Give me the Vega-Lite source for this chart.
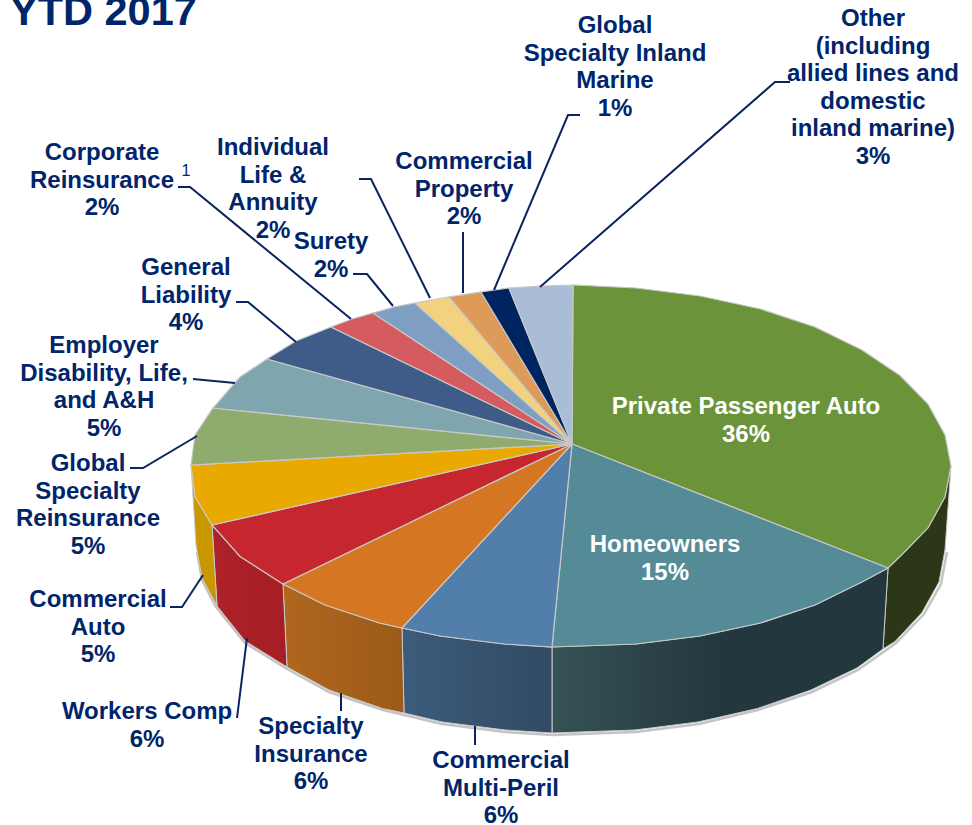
{
"$schema":"https://vega.github.io/schema/vega-lite/v6.json",
"width":972,"height":825,"padding":0,"autosize":{"type":"none"},
"background":"#ffffff","view":{"stroke":null},
"datasets":{
"top":[
{"slice":"Private Passenger Auto","i":0,"x":572,"y":444},{"slice":"Private Passenger Auto","i":1,"x":573,"y":285},{"slice":"Private Passenger Auto","i":2,"x":636,"y":288},{"slice":"Private Passenger Auto","i":3,"x":700,"y":296},{"slice":"Private Passenger Auto","i":4,"x":760.5,"y":309},{"slice":"Private Passenger Auto","i":5,"x":815,"y":327},{"slice":"Private Passenger Auto","i":6,"x":862,"y":350},{"slice":"Private Passenger Auto","i":7,"x":900,"y":375.5},{"slice":"Private Passenger Auto","i":8,"x":928,"y":404},{"slice":"Private Passenger Auto","i":9,"x":945,"y":435},{"slice":"Private Passenger Auto","i":10,"x":951,"y":466},{"slice":"Private Passenger Auto","i":11,"x":945,"y":497},{"slice":"Private Passenger Auto","i":12,"x":928,"y":528},{"slice":"Private Passenger Auto","i":13,"x":900,"y":556.5},{"slice":"Private Passenger Auto","i":14,"x":888,"y":568},{"slice":"Private Passenger Auto","i":15,"x":572,"y":444},
{"slice":"Homeowners","i":0,"x":572,"y":444},{"slice":"Homeowners","i":1,"x":888,"y":568},{"slice":"Homeowners","i":2,"x":862,"y":582},{"slice":"Homeowners","i":3,"x":815,"y":605},{"slice":"Homeowners","i":4,"x":760.5,"y":623},{"slice":"Homeowners","i":5,"x":700,"y":636},{"slice":"Homeowners","i":6,"x":636,"y":644},{"slice":"Homeowners","i":7,"x":552,"y":647},{"slice":"Homeowners","i":8,"x":572,"y":444},
{"slice":"Commercial Multi-Peril","i":0,"x":572,"y":444},{"slice":"Commercial Multi-Peril","i":1,"x":552,"y":647},{"slice":"Commercial Multi-Peril","i":2,"x":504,"y":644},{"slice":"Commercial Multi-Peril","i":3,"x":440,"y":636},{"slice":"Commercial Multi-Peril","i":4,"x":402,"y":628},{"slice":"Commercial Multi-Peril","i":5,"x":572,"y":444},
{"slice":"Specialty Insurance","i":0,"x":572,"y":444},{"slice":"Specialty Insurance","i":1,"x":402,"y":628},{"slice":"Specialty Insurance","i":2,"x":379.5,"y":623},{"slice":"Specialty Insurance","i":3,"x":325,"y":605},{"slice":"Specialty Insurance","i":4,"x":283,"y":584},{"slice":"Specialty Insurance","i":5,"x":572,"y":444},
{"slice":"Workers Comp","i":0,"x":572,"y":444},{"slice":"Workers Comp","i":1,"x":283,"y":584},{"slice":"Workers Comp","i":2,"x":240,"y":556.5},{"slice":"Workers Comp","i":3,"x":212,"y":525},{"slice":"Workers Comp","i":4,"x":572,"y":444},
{"slice":"Commercial Auto","i":0,"x":572,"y":444},{"slice":"Commercial Auto","i":1,"x":212,"y":525},{"slice":"Commercial Auto","i":2,"x":195,"y":497},{"slice":"Commercial Auto","i":3,"x":191,"y":465},{"slice":"Commercial Auto","i":4,"x":572,"y":444},
{"slice":"Global Specialty Reinsurance","i":0,"x":572,"y":444},{"slice":"Global Specialty Reinsurance","i":1,"x":191,"y":465},{"slice":"Global Specialty Reinsurance","i":2,"x":195,"y":435},{"slice":"Global Specialty Reinsurance","i":3,"x":213,"y":408},{"slice":"Global Specialty Reinsurance","i":4,"x":572,"y":444},
{"slice":"Employer Disability, Life, and A&H","i":0,"x":572,"y":444},{"slice":"Employer Disability, Life, and A&H","i":1,"x":213,"y":408},{"slice":"Employer Disability, Life, and A&H","i":2,"x":240,"y":377},{"slice":"Employer Disability, Life, and A&H","i":3,"x":267,"y":359},{"slice":"Employer Disability, Life, and A&H","i":4,"x":572,"y":444},
{"slice":"General Liability","i":0,"x":572,"y":444},{"slice":"General Liability","i":1,"x":267,"y":359},{"slice":"General Liability","i":2,"x":296,"y":341},{"slice":"General Liability","i":3,"x":331,"y":327},{"slice":"General Liability","i":4,"x":572,"y":444},
{"slice":"Corporate Reinsurance","i":0,"x":572,"y":444},{"slice":"Corporate Reinsurance","i":1,"x":331,"y":327},{"slice":"Corporate Reinsurance","i":2,"x":352,"y":319},{"slice":"Corporate Reinsurance","i":3,"x":373,"y":313},{"slice":"Corporate Reinsurance","i":4,"x":572,"y":444},
{"slice":"Surety","i":0,"x":572,"y":444},{"slice":"Surety","i":1,"x":373,"y":313},{"slice":"Surety","i":2,"x":394,"y":307},{"slice":"Surety","i":3,"x":415,"y":303},{"slice":"Surety","i":4,"x":572,"y":444},
{"slice":"Individual Life & Annuity","i":0,"x":572,"y":444},{"slice":"Individual Life & Annuity","i":1,"x":415,"y":303},{"slice":"Individual Life & Annuity","i":2,"x":449,"y":297},{"slice":"Individual Life & Annuity","i":3,"x":572,"y":444},
{"slice":"Commercial Property","i":0,"x":572,"y":444},{"slice":"Commercial Property","i":1,"x":449,"y":297},{"slice":"Commercial Property","i":2,"x":481,"y":292},{"slice":"Commercial Property","i":3,"x":572,"y":444},
{"slice":"Global Specialty Inland Marine","i":0,"x":572,"y":444},{"slice":"Global Specialty Inland Marine","i":1,"x":481,"y":292},{"slice":"Global Specialty Inland Marine","i":2,"x":509,"y":288},{"slice":"Global Specialty Inland Marine","i":3,"x":572,"y":444},
{"slice":"Other","i":0,"x":572,"y":444},{"slice":"Other","i":1,"x":509,"y":288},{"slice":"Other","i":2,"x":540,"y":286},{"slice":"Other","i":3,"x":573,"y":285},{"slice":"Other","i":4,"x":572,"y":444}
],
"side":[
{"slice":"Private Passenger Auto","i":0,"x":951,"y":466},{"slice":"Private Passenger Auto","i":1,"x":945,"y":497},{"slice":"Private Passenger Auto","i":2,"x":928,"y":528},{"slice":"Private Passenger Auto","i":3,"x":900,"y":556.5},{"slice":"Private Passenger Auto","i":4,"x":888,"y":568},{"slice":"Private Passenger Auto","i":5,"x":883,"y":649},{"slice":"Private Passenger Auto","i":6,"x":895,"y":641.5},{"slice":"Private Passenger Auto","i":7,"x":922,"y":612.6},{"slice":"Private Passenger Auto","i":8,"x":939,"y":582},{"slice":"Private Passenger Auto","i":9,"x":945,"y":550},{"slice":"Private Passenger Auto","i":10,"x":951,"y":466},
{"slice":"Homeowners","i":0,"x":888,"y":568},{"slice":"Homeowners","i":1,"x":862,"y":582},{"slice":"Homeowners","i":2,"x":815,"y":605},{"slice":"Homeowners","i":3,"x":760.5,"y":623},{"slice":"Homeowners","i":4,"x":700,"y":636},{"slice":"Homeowners","i":5,"x":636,"y":644},{"slice":"Homeowners","i":6,"x":552,"y":647},{"slice":"Homeowners","i":7,"x":552,"y":733},{"slice":"Homeowners","i":8,"x":635,"y":730},{"slice":"Homeowners","i":9,"x":698,"y":722},{"slice":"Homeowners","i":10,"x":757.5,"y":708.5},{"slice":"Homeowners","i":11,"x":811,"y":690},{"slice":"Homeowners","i":12,"x":857,"y":668},{"slice":"Homeowners","i":13,"x":883,"y":649},{"slice":"Homeowners","i":14,"x":888,"y":568},
{"slice":"Commercial Multi-Peril","i":0,"x":402,"y":628},{"slice":"Commercial Multi-Peril","i":1,"x":440,"y":636},{"slice":"Commercial Multi-Peril","i":2,"x":504,"y":644},{"slice":"Commercial Multi-Peril","i":3,"x":552,"y":647},{"slice":"Commercial Multi-Peril","i":4,"x":552,"y":733},{"slice":"Commercial Multi-Peril","i":5,"x":505,"y":730},{"slice":"Commercial Multi-Peril","i":6,"x":442,"y":722},{"slice":"Commercial Multi-Peril","i":7,"x":404,"y":713},{"slice":"Commercial Multi-Peril","i":8,"x":402,"y":628},
{"slice":"Specialty Insurance","i":0,"x":283,"y":584},{"slice":"Specialty Insurance","i":1,"x":325,"y":605},{"slice":"Specialty Insurance","i":2,"x":379.5,"y":623},{"slice":"Specialty Insurance","i":3,"x":402,"y":628},{"slice":"Specialty Insurance","i":4,"x":404,"y":713},{"slice":"Specialty Insurance","i":5,"x":382.5,"y":708.5},{"slice":"Specialty Insurance","i":6,"x":329,"y":690},{"slice":"Specialty Insurance","i":7,"x":287,"y":667},{"slice":"Specialty Insurance","i":8,"x":283,"y":584},
{"slice":"Workers Comp","i":0,"x":212,"y":525},{"slice":"Workers Comp","i":1,"x":240,"y":556.5},{"slice":"Workers Comp","i":2,"x":283,"y":584},{"slice":"Workers Comp","i":3,"x":287,"y":667},{"slice":"Workers Comp","i":4,"x":245,"y":641},{"slice":"Workers Comp","i":5,"x":217,"y":606},{"slice":"Workers Comp","i":6,"x":212,"y":525},
{"slice":"Commercial Auto","i":0,"x":191,"y":465},{"slice":"Commercial Auto","i":1,"x":195,"y":497},{"slice":"Commercial Auto","i":2,"x":212,"y":525},{"slice":"Commercial Auto","i":3,"x":217,"y":606},{"slice":"Commercial Auto","i":4,"x":202,"y":578},{"slice":"Commercial Auto","i":5,"x":196,"y":545},{"slice":"Commercial Auto","i":6,"x":191,"y":465}
],
"shadow":[
{"i":0,"x":947,"y":552},{"i":1,"x":941,"y":584},{"i":2,"x":924,"y":614},{"i":3,"x":896,"y":643},{"i":4,"x":858,"y":670},{"i":5,"x":812,"y":692},{"i":6,"x":758,"y":710},{"i":7,"x":699,"y":724},{"i":8,"x":636,"y":732},{"i":9,"x":552,"y":735},{"i":10,"x":505,"y":732},{"i":11,"x":442,"y":724},{"i":12,"x":404,"y":715},{"i":13,"x":383,"y":710},{"i":14,"x":329,"y":692},{"i":15,"x":287,"y":669},{"i":16,"x":245,"y":643},{"i":17,"x":216,"y":607},{"i":18,"x":202,"y":580},{"i":19,"x":197,"y":552}
],
"leaders":[
{"who":"Global Specialty Inland Marine","i":0,"x":580,"y":115},{"who":"Global Specialty Inland Marine","i":1,"x":568,"y":115},{"who":"Global Specialty Inland Marine","i":2,"x":494,"y":290},
{"who":"Other","i":0,"x":790,"y":82},{"who":"Other","i":1,"x":775,"y":82},{"who":"Other","i":2,"x":540,"y":287},
{"who":"Commercial Property","i":0,"x":463,"y":232},{"who":"Commercial Property","i":1,"x":463,"y":293},
{"who":"Individual Life & Annuity","i":0,"x":359,"y":179},{"who":"Individual Life & Annuity","i":1,"x":371,"y":179},{"who":"Individual Life & Annuity","i":2,"x":430,"y":298},
{"who":"Corporate Reinsurance","i":0,"x":178,"y":187},{"who":"Corporate Reinsurance","i":1,"x":190,"y":187},{"who":"Corporate Reinsurance","i":2,"x":351,"y":319},
{"who":"Surety","i":0,"x":353,"y":274},{"who":"Surety","i":1,"x":367,"y":274},{"who":"Surety","i":2,"x":393,"y":306},
{"who":"General Liability","i":0,"x":236,"y":302},{"who":"General Liability","i":1,"x":248,"y":302},{"who":"General Liability","i":2,"x":296,"y":342},
{"who":"Employer","i":0,"x":193,"y":379},{"who":"Employer","i":1,"x":235,"y":383},
{"who":"Global Specialty Reinsurance","i":0,"x":130,"y":468},{"who":"Global Specialty Reinsurance","i":1,"x":143,"y":468},{"who":"Global Specialty Reinsurance","i":2,"x":197,"y":436},
{"who":"Commercial Auto","i":0,"x":170,"y":607},{"who":"Commercial Auto","i":1,"x":182,"y":607},{"who":"Commercial Auto","i":2,"x":203,"y":575},
{"who":"Workers Comp","i":0,"x":237,"y":718},{"who":"Workers Comp","i":1,"x":247,"y":638},
{"who":"Specialty Insurance","i":0,"x":341,"y":693},{"who":"Specialty Insurance","i":1,"x":341,"y":711},
{"who":"Commercial Multi-Peril","i":0,"x":475,"y":726},{"who":"Commercial Multi-Peril","i":1,"x":475,"y":745}
],
"labels":[
{"label":"Global\nSpecialty Inland\nMarine\n1%","x":615,"y":33,"tone":"dark"},
{"label":"Other\n(including\nallied lines and\ndomestic\ninland marine)\n3%","x":873,"y":26,"tone":"dark"},
{"label":"Commercial\nProperty\n2%","x":464,"y":169,"tone":"dark"},
{"label":"Individual\nLife &\nAnnuity\n2%","x":273,"y":155,"tone":"dark"},
{"label":"Corporate\nReinsurance\n2%","x":102,"y":160,"tone":"dark"},
{"label":"Surety\n2%","x":331,"y":249,"tone":"dark"},
{"label":"General\nLiability\n4%","x":186,"y":275,"tone":"dark"},
{"label":"Employer\nDisability, Life,\nand A&H\n5%","x":104,"y":353,"tone":"dark"},
{"label":"Global\nSpecialty\nReinsurance\n5%","x":88,"y":471,"tone":"dark"},
{"label":"Commercial\nAuto\n5%","x":98,"y":607,"tone":"dark"},
{"label":"Workers Comp\n6%","x":147,"y":719,"tone":"dark"},
{"label":"Specialty\nInsurance\n6%","x":311,"y":734,"tone":"dark"},
{"label":"Commercial\nMulti-Peril\n6%","x":501,"y":768,"tone":"dark"},
{"label":"Private Passenger Auto\n36%","x":746,"y":414,"tone":"light"},
{"label":"Homeowners\n15%","x":665,"y":552,"tone":"light"}
]
},
"encoding":{
"x":{"field":"x","type":"quantitative","axis":null,"scale":{"domain":[0,972],"nice":false,"zero":false}},
"y":{"field":"y","type":"quantitative","axis":null,"scale":{"domain":[0,825],"nice":false,"zero":false,"reverse":true}}
},
"layer":[
{"data":{"name":"shadow"},"mark":{"type":"line","stroke":"#8a8a8a","strokeWidth":2.5,"opacity":0.5},"encoding":{"order":{"field":"i","type":"quantitative"}}},
{"data":{"name":"side"},"transform":[{"filter":"datum.slice==='Private Passenger Auto'"}],"mark":{"type":"line","filled":true,"fill":"#2c3717","stroke":"#c8c8c8","strokeWidth":1},"encoding":{"order":{"field":"i","type":"quantitative"}}},
{"data":{"name":"side"},"transform":[{"filter":"datum.slice==='Homeowners'"}],"mark":{"type":"line","filled":true,"fill":{"gradient":"linear","x1":0,"y1":0,"x2":1,"y2":0,"stops":[{"offset":0,"color":"#365255"},{"offset":0.5,"color":"#23383e"},{"offset":1,"color":"#23383e"}]},"stroke":"#c8c8c8","strokeWidth":1},"encoding":{"order":{"field":"i","type":"quantitative"}}},
{"data":{"name":"side"},"transform":[{"filter":"datum.slice==='Commercial Multi-Peril'"}],"mark":{"type":"line","filled":true,"fill":{"gradient":"linear","x1":0,"y1":0,"x2":1,"y2":0,"stops":[{"offset":0,"color":"#3c5c7c"},{"offset":1,"color":"#324a63"}]},"stroke":"#c8c8c8","strokeWidth":1},"encoding":{"order":{"field":"i","type":"quantitative"}}},
{"data":{"name":"side"},"transform":[{"filter":"datum.slice==='Specialty Insurance'"}],"mark":{"type":"line","filled":true,"fill":{"gradient":"linear","x1":0,"y1":0,"x2":1,"y2":0,"stops":[{"offset":0,"color":"#b0671f"},{"offset":1,"color":"#9b5a18"}]},"stroke":"#c8c8c8","strokeWidth":1},"encoding":{"order":{"field":"i","type":"quantitative"}}},
{"data":{"name":"side"},"transform":[{"filter":"datum.slice==='Workers Comp'"}],"mark":{"type":"line","filled":true,"fill":{"gradient":"linear","x1":0,"y1":0,"x2":1,"y2":0,"stops":[{"offset":0,"color":"#ae2229"},{"offset":1,"color":"#a61d24"}]},"stroke":"#c8c8c8","strokeWidth":1},"encoding":{"order":{"field":"i","type":"quantitative"}}},
{"data":{"name":"side"},"transform":[{"filter":"datum.slice==='Commercial Auto'"}],"mark":{"type":"line","filled":true,"fill":"#c99700","stroke":"#c8c8c8","strokeWidth":1},"encoding":{"order":{"field":"i","type":"quantitative"}}},
{"data":{"name":"top"},"mark":{"type":"line","filled":true,"stroke":"#c8c8c8","strokeWidth":1.2},"encoding":{
"order":{"field":"i","type":"quantitative"},
"detail":{"field":"slice"},
"fill":{"field":"slice","type":"nominal","legend":null,"scale":{"domain":["Private Passenger Auto","Homeowners","Commercial Multi-Peril","Specialty Insurance","Workers Comp","Commercial Auto","Global Specialty Reinsurance","Employer Disability, Life, and A&H","General Liability","Corporate Reinsurance","Surety","Individual Life & Annuity","Commercial Property","Global Specialty Inland Marine","Other"],"range":["#6b943a","#558b97","#527eab","#d57623","#c6262e","#eaa900","#8fac6e","#7fa6ae","#3f5b87","#d45c60","#7e9fc2","#f3d27f","#de9a59","#00245f","#a9bdd6"]}}
}},
{"data":{"name":"leaders"},"mark":{"type":"line","stroke":"#0b2460","strokeWidth":2},"encoding":{"order":{"field":"i","type":"quantitative"},"detail":{"field":"who"}}},
{"data":{"name":"labels"},"mark":{"type":"text","font":"Liberation Sans","fontWeight":"bold","fontSize":24,"lineHeight":27.5,"lineBreak":"\n","align":"center","baseline":"alphabetic"},"encoding":{"text":{"field":"label"},"color":{"field":"tone","type":"nominal","legend":null,"scale":{"domain":["dark","light"],"range":["#00256a","#ffffff"]}}}},
{"data":{"values":[{"t":"YTD 2017","x":10,"y":25}]},"mark":{"type":"text","font":"Liberation Sans","fontWeight":"bold","fontSize":41.5,"align":"left","baseline":"alphabetic","color":"#00256a"},"encoding":{"text":{"field":"t"}}},
{"data":{"values":[{"t":"1","x":186,"y":176}]},"mark":{"type":"text","font":"Liberation Sans","fontSize":16,"align":"center","baseline":"alphabetic","color":"#00256a"},"encoding":{"text":{"field":"t"}}}
]
}
